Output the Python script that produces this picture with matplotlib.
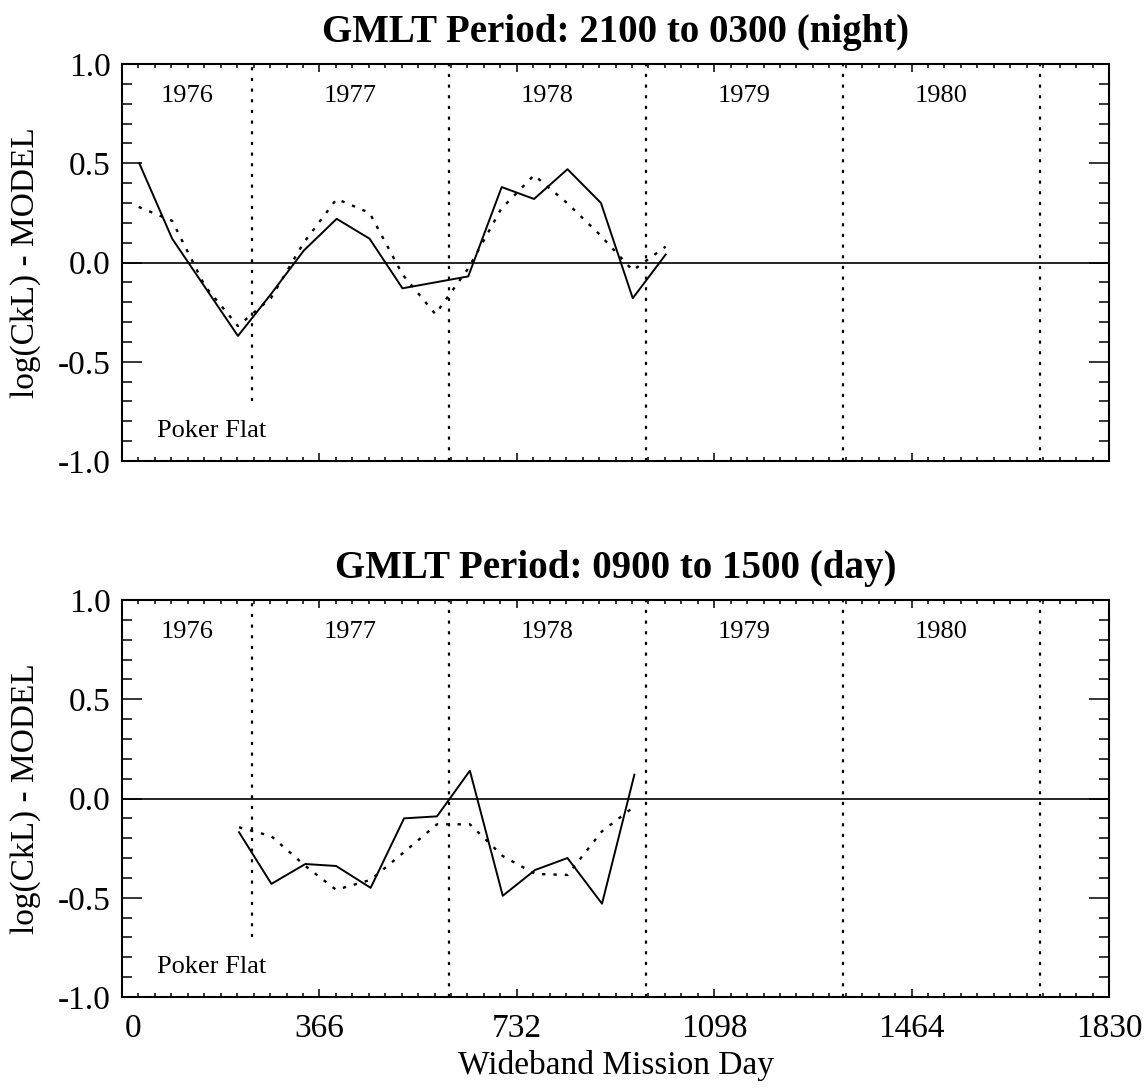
import matplotlib
matplotlib.use("Agg")
import matplotlib.pyplot as plt
from matplotlib.ticker import MultipleLocator
from matplotlib.transforms import ScaledTranslation

plt.rcParams['font.family'] = ['Liberation Serif', 'DejaVu Serif']

# night panel (GMLT 2100-0300)
night_days = [32, 93, 215, 276, 337, 398, 459, 520, 642, 704, 764, 826, 888, 947, 1008]
night_obs = [0.50, 0.12, -0.37, -0.16, 0.06, 0.22, 0.12, -0.13, -0.07, 0.38, 0.32, 0.47, 0.30, -0.18, 0.04]
night_model_days = [31, 93, 154, 215, 276, 337, 398, 459, 520, 581, 642, 703, 764, 825, 886, 947, 1008]
night_model = [0.28, 0.21, -0.12, -0.32, -0.18, 0.10, 0.32, 0.25, -0.06, -0.26, -0.03, 0.27, 0.44, 0.30, 0.14, -0.04, 0.08]

# day panel (GMLT 0900-1500)
day_days = [217, 277, 340, 397, 461, 523, 584, 645, 706, 766, 826, 890, 950]
day_obs = [-0.17, -0.43, -0.33, -0.34, -0.45, -0.10, -0.09, 0.14, -0.49, -0.36, -0.30, -0.53, 0.12]
day_model = [-0.145, -0.19, -0.34, -0.46, -0.41, -0.27, -0.13, -0.13, -0.29, -0.38, -0.385, -0.165, -0.04]

year_bounds = [241, 606, 971, 1336, 1702]
year_names = ["1976", "1977", "1978", "1979", "1980"]
year_mid = [121, 423, 789, 1154, 1519]
xticks = [0, 366, 732, 1098, 1464, 1830]

titles = ["GMLT Period: 2100 to 0300 (night)", "GMLT Period: 0900 to 1500 (day)"]

fig = plt.figure(figsize=(11.46, 10.9), dpi=100)
W, H = 1146.0, 1090.0
ax1 = fig.add_axes([122 / W, 1 - 461 / H, 987 / W, 397 / H])
ax2 = fig.add_axes([122 / W, 1 - 997 / H, 987 / W, 397 / H])

dots = (0, (1.4, 3.4))

panels = [
    (ax1, night_days, night_obs, night_model_days, night_model),
    (ax2, day_days, day_obs, day_days, day_model),
]

for i, (ax, xd, yo, xm, ym) in enumerate(panels):
    ax.set_xlim(0, 1830)
    ax.set_ylim(-1.0, 1.0)
    ax.axhline(0, color="black", lw=1.2)
    ax.plot(xd, yo, color="black", lw=1.4)
    ax.plot(xm, ym, color="black", lw=1.7, linestyle=dots)

    for j, b in enumerate(year_bounds):
        ymin = -0.70 if j == 0 else -1.0
        ax.plot([b, b], [ymin, 1.0], color="black", lw=1.6, linestyle=dots)
    for name, m in zip(year_names, year_mid):
        ax.text(m, 0.84, name, ha="center", va="center", fontsize=19)
    ax.text(64, -0.85, "Poker Flat", ha="left", va="center", fontsize=19)

    ax.set_xticks(xticks)
    ax.xaxis.set_minor_locator(MultipleLocator(30.5))
    ax.yaxis.set_major_locator(MultipleLocator(0.5))
    ax.yaxis.set_minor_locator(MultipleLocator(0.1))
    ax.set_yticklabels(["%.1f" % v for v in ax.get_yticks()])
    ax.tick_params(which="both", direction="in", top=True, right=True, width=1.1)
    ax.tick_params(axis="x", which="major", length=5.5, pad=12, labelsize=24)
    ax.tick_params(axis="x", which="minor", length=2.8)
    ax.tick_params(axis="y", which="major", length=14.4, pad=8, labelsize=24)
    ax.tick_params(axis="y", which="minor", length=7.2)
    for s in ax.spines.values():
        s.set_linewidth(1.5)

    ax.set_title(titles[i], fontsize=28, fontweight="bold", pad=16)
    ax.set_ylabel("log(CkL) - MODEL", fontsize=24)
    ax.yaxis.set_label_coords(-0.082, 0.5)

ax1.tick_params(axis="x", labelbottom=False)
ax2.set_xlabel("Wideband Mission Day", fontsize=24, labelpad=4)

# the "0" label sits a little right of its tick in the original
zero_lab = ax2.get_xticklabels()[0]
zero_lab.set_transform(zero_lab.get_transform() + ScaledTranslation(8 / 72, 0, fig.dpi_scale_trans))

fig.savefig("out.png", dpi=100)
